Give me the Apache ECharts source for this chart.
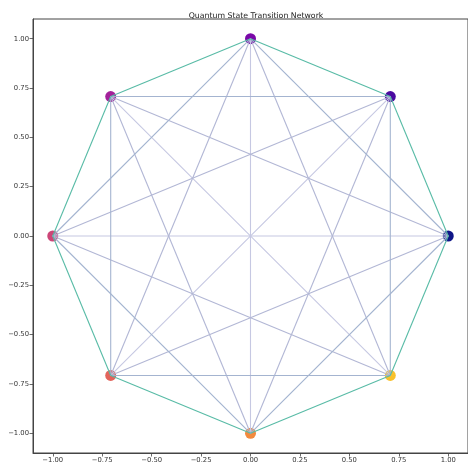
<!DOCTYPE html>
<html>
<head>
<meta charset="utf-8">
<script src="https://cdn.jsdelivr.net/npm/echarts@6/dist/echarts.min.js"></script>
<style>html,body{margin:0;padding:0;background:#fff}#c{width:468px;height:464px}</style>
</head>
<body>
<div id="c"></div>
<script>
// Node positions (states on a unit circle)
const nodeX = [1.0, 0.707, 0.0, -0.707, -1.0, -0.707, 0.0, 0.707];
const nodeY = [0.0, 0.707, 1.0, 0.707, 0.0, -0.707, -1.0, -0.707];
const nodeColors = ['#0f1688', '#4a0aa0', '#7a08a8', '#a3229a', '#cc4678', '#e2645b', '#f28a3e', '#f9c12b'];
// Edge colours by ring distance between nodes (1..4)
const edgeColors = ['#58bba6', '#a4b4d0', '#b2b7d5', '#c6c8e2'];
const tickValues = [-1.0, -0.75, -0.5, -0.25, 0.0, 0.25, 0.5, 0.75, 1.0];

const n = nodeX.length;
const edges = [];
for (let i = 0; i < n; i++) {
  for (let j = i + 1; j < n; j++) {
    let d = Math.abs(i - j);
    d = Math.min(d, n - d);
    edges.push({ i: i, j: j, d: d });
  }
}
// draw far edges first, ring edges last
edges.sort((a, b) => b.d - a.d);

const edgeSeries = edges.map((e, k) => ({
  type: 'line', z: 3,
  symbol: 'none', silent: true,
  data: [[nodeX[e.i], nodeY[e.i]], [nodeX[e.j], nodeY[e.j]]],
  lineStyle: { color: edgeColors[e.d - 1], width: 1.1, opacity: 1 },
  emphasis: { disabled: true }
}));

const fmt = v => (v < 0 ? '\u2212' : '') + Math.abs(v).toFixed(2);
const axisCommon = {
  type: 'value', min: -1.1, max: 1.1,
  axisLine: { show: true, onZero: false, lineStyle: { color: '#444', width: 1 } },
  axisTick: { show: true, customValues: tickValues, length: 3.5, lineStyle: { color: '#444', width: 0.8 } },
  axisLabel: { customValues: tickValues, formatter: fmt, fontFamily: 'DejaVu Sans', fontSize: 6.8, color: '#333', margin: 4 },
  splitLine: { show: false }
};

const chart = echarts.init(document.getElementById('c'), null, { renderer: 'canvas' });
chart.setOption({
  animation: false,
  backgroundColor: '#fff',
  title: {
    text: 'Quantum State Transition Network', left: 251, top: 7, textAlign: 'center',
    textStyle: { fontFamily: 'DejaVu Sans', fontSize: 7.8, fontWeight: 'normal', color: '#222' }
  },
  grid: { left: 33, right: -1, top: 19, bottom: 11, show: true, borderColor: '#444', borderWidth: 1, backgroundColor: 'transparent' },
  xAxis: Object.assign({}, axisCommon),
  yAxis: Object.assign({}, axisCommon),
  series: [
    {
      type: 'scatter', z: 2,
      symbolSize: 11,
      data: nodeX.map((x, i) => ({ value: [x, nodeY[i]], itemStyle: { color: nodeColors[i], opacity: 1 } }))
    }
  ].concat(edgeSeries)
});
</script>
</body>
</html>
